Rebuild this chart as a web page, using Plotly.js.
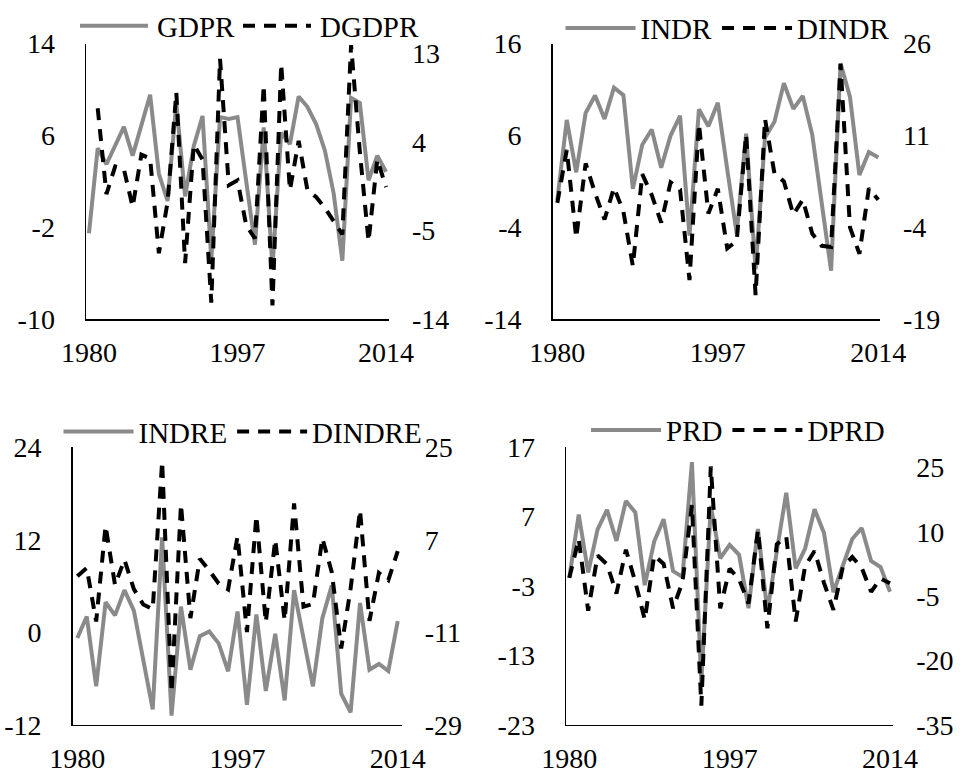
<!DOCTYPE html>
<html>
<head>
<meta charset="utf-8">
<script src="https://cdn.plot.ly/plotly-3.0.1.min.js"></script>
<style>
  html, body { margin: 0; padding: 0; background: #fff; }
  #chart { width: 960px; height: 776px; }
</style>
</head>
<body>
<div id="chart"></div>
<script>
// ---- data ----
const years = [1980,1981,1982,1983,1984,1985,1986,1987,1988,1989,1990,1991,1992,1993,1994,1995,1996,1997,
               1998,1999,2000,2001,2002,2003,2004,2005,2006,2007,2008,2009,2010,2011,2012,2013,2014];
const xTicks = [1980, 1997, 2014];

const GDPR  = [-2.5, 4.9, 3.5, 5.2, 6.75, 4.25, 6.8, 9.55, 2.67, 0.3, 8.8, 0.7, 5.1, 7.7, -4.8, 7.6, 7.45, 7.6,
               2.0, -3.5, 6.7, -5.5, 6.25, 5.25, 9.4, 8.5, 7.0, 4.7, 1.0, -4.9, 9.27, 8.84, 2.1, 4.25, 2.85];
const DGDPR = [null, 7.4, -1.3, 1.5, 1.2, -2.6, 2.7, 2.3, -7.3, -2.1, 9.0, -8.3, 3.7, 2.2, -12.3, 12.4, -0.4, 0.1,
               -4.5, -5.8, 9.75, -12.6, 11.9, -0.9, 4.1, -0.9, -1.6, -2.7, -4.1, -5.4, 13.8, 3.0, -6.1, 2.2, -0.6];

const INDR  = [-1.0, 7.7, 2.0, 8.45, 10.35, 7.8, 11.2, 10.4, 0.2, 5.0, 6.65, 2.5, 6.0, 8.15, -4.9, 8.85, 7.0, 9.56,
               2.3, -4.65, 6.2, -8.55, 5.8, 7.5, 11.7, 8.9, 10.3, 6.1, -1.3, -8.7, 13.85, 10.2, 1.7, 4.2, 3.6];
const DINDR = [0.0, 8.65, -5.7, 6.45, 1.6, -2.7, 2.5, -1.4, -10.3, 4.7, 1.3, -3.2, 3.35, 2.2, -12.6, 12.9, -1.75, 2.3,
               -7.4, -6.2, 11.15, -15.05, 13.7, 4.8, 3.5, -1.9, 0.55, -5.0, -7.0, -7.2, 22.7, -4.0, -8.3, 2.4, 0.5];

const INDRE  = [-0.73, 2.05, -7.0, 3.9, 2.2, 5.47, 2.8, -3.4, -10.0, 12.3, -10.8, 3.33, -4.85, -0.5, 0.1, -1.43, -5.05, 2.7,
                -9.4, 2.3, -7.6, -0.2, -8.83, 5.47, -0.8, -7.0, 1.83, 6.05, -7.95, -10.36, 3.8, -4.85, -4.1, -5.0, 1.45];
const DINDRE = [-0.1, 1.5, -8.9, 9.7, -1.8, 3.1, -2.6, -5.6, -6.5, 22.25, -22.7, 13.9, -8.25, 3.3, 1.0, -1.5, -2.65, 7.65,
                -10.95, 11.65, -9.05, 7.0, -8.7, 14.05, -6.0, -5.5, 7.3, 0.7, -14.15, -2.5, 12.75, -8.75, 0.55, -0.86, 4.8];

const PRD  = [-1.8, 7.3, -1.05, 5.15, 7.97, 3.5, 9.25, 7.6, -2.87, 3.4, 6.63, -0.85, -1.69, 14.85, -16.9, 8.54, 1.0, 2.92,
              1.5, -6.2, 5.2, -6.7, 2.0, 10.44, -0.45, 2.4, 8.06, 4.65, -3.9, -0.2, 3.77, 5.35, 0.6, -0.26, -3.83];
const DPRD = [-0.75, 8.3, -8.4, 4.46, 2.4, -4.4, 5.8, -1.7, -10.5, 4.46, 2.5, -7.85, -1.7, 16.2, -30.5, 25.2, -7.85, 1.4,
              -1.1, -6.7, 10.4, -12.5, 7.1, 8.9, -10.9, 2.0, 5.5, -1.9, -8.2, 1.8, 4.1, 1.6, -4.0, -0.9, -2.0];

const leftTicks  = [[-10, -2, 6, 14], [-14, -4, 6, 16], [-12, 0, 12, 24], [-23, -13, -3, 7, 17]];
const rightTicks = [[-14, -5, 4, 13], [-19, -4, 11, 26], [-29, -11, 7, 25], [-35, -20, -5, 10, 25]];
const leftRange  = [[-10, 14], [-14, 16], [-12, 24], [-23, 17]];
const rightRange = [[-14, 13.95], [-19, 26], [-29, 25], [-35, 29.7]];
const names = [['GDPR', 'DGDPR'], ['INDR', 'DINDR'], ['INDRE', 'DINDRE'], ['PRD', 'DPRD']];
const seriesA = [GDPR, INDR, INDRE, PRD];
const seriesB = [DGDPR, DINDR, DINDRE, DPRD];

// ---- layout geometry (pixels in the 960x776 figure) ----
const W = 960, H = 776;
const panels = [
  {x0: 86,    x1: 389,   y0: 35,    y1: 314,   xr: [1979.66, 2014.34], lx: 250.5, ly: 17},
  {x0: 552.7, x1: 880,   y0: 35,    y1: 314,   xr: [1979.51, 2014.18], lx: 728,   ly: 19.5},
  {x0: 72.7,  x1: 401.7, y0: 443.3, y1: 724.3, xr: [1979.51, 2014.42], lx: 243,   ly: 427.5},
  {x0: 566,   x1: 893.3, y0: 443.3, y1: 724.3, xr: [1979.65, 2014.35], lx: 738,   ly: 426}
];

const FONT = '"Liberation Serif", "Times New Roman", serif';
const GRAY = '#8a8a8a';
const hy = v => String(v);   // plain hyphen-minus like the reference

const data = [];
const layout = {
  width: W, height: H,
  margin: {l: 0, r: 0, t: 0, b: 0},
  paper_bgcolor: '#ffffff',
  plot_bgcolor: 'rgba(0,0,0,0)',
  font: {family: FONT, size: 28, color: '#000'},
  showlegend: true
};

panels.forEach((p, k) => {
  const xa = k === 0 ? 'xaxis' : 'xaxis' + (k + 1);
  const xs = k === 0 ? 'x' : 'x' + (k + 1);
  const yl = 2 * k + 1, yr = 2 * k + 2;
  const yla = yl === 1 ? 'yaxis' : 'yaxis' + yl;
  const yls = yl === 1 ? 'y' : 'y' + yl;
  const yra = 'yaxis' + yr, yrs = 'y' + yr;
  const lg = k === 0 ? 'legend' : 'legend' + (k + 1);

  data.push({
    type: 'scatter', mode: 'lines', x: years, y: seriesA[k], name: names[k][0],
    xaxis: xs, yaxis: yls, legend: lg,
    line: {color: GRAY, width: 4}
  });
  data.push({
    type: 'scatter', mode: 'lines', x: years, y: seriesB[k], name: names[k][1],
    xaxis: xs, yaxis: yrs, legend: lg,
    line: {color: '#000', width: 4, dash: '12px,9px'}
  });

  layout[xa] = {
    domain: [p.x0 / W, p.x1 / W], anchor: yls, range: p.xr,
    tickmode: 'array', tickvals: xTicks, ticktext: xTicks.map(hy), ticks: '',
    showline: true, linecolor: '#000', linewidth: 1.5,
    showgrid: false, zeroline: false, ticklabelstandoff: 8,
    tickfont: {family: FONT, size: 28, color: '#000'}
  };
  layout[yla] = {
    domain: [1 - p.y1 / H, 1 - p.y0 / H], anchor: xs, range: leftRange[k],
    tickmode: 'array', tickvals: leftTicks[k], ticktext: leftTicks[k].map(hy), ticks: '',
    showline: true, linecolor: '#000', linewidth: 1.5,
    showgrid: false, zeroline: false, ticklabelstandoff: 24,
    tickfont: {family: FONT, size: 28, color: '#000'}
  };
  layout[yra] = {
    overlaying: yls, anchor: xs, side: 'right', range: rightRange[k],
    tickmode: 'array', tickvals: rightTicks[k], ticktext: rightTicks[k].map(hy), ticks: '',
    showline: false, showgrid: false, zeroline: false, ticklabelstandoff: 22,
    tickfont: {family: FONT, size: 28, color: '#000'}
  };
  layout[lg] = {
    orientation: 'h', x: p.lx / W, y: 1 - p.ly / H, xanchor: 'center', yanchor: 'middle',
    xref: 'paper', yref: 'paper', itemwidth: 70, traceorder: 'normal',
    bgcolor: 'rgba(0,0,0,0)', borderwidth: 0,
    font: {family: FONT, size: 29, color: '#000'}
  };
});

Plotly.newPlot('chart', data, layout, {staticPlot: true, displayModeBar: false}).then(function (gd) {
  // stretch the legend line samples to fill the item symbol width
  gd.querySelectorAll('.legend path.js-line').forEach(function (el) {
    el.setAttribute('d', 'M3,0h68');
  });
});
</script>
</body>
</html>
